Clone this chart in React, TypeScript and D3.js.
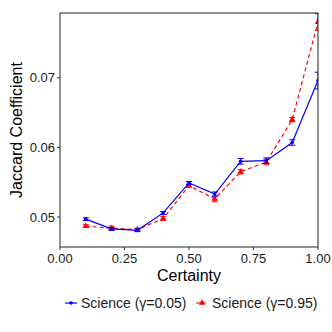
import * as d3 from "d3";

const certainty = [0.1, 0.2, 0.3, 0.4, 0.5, 0.6, 0.7, 0.8, 0.9, 1.0];
const lowGamma = [0.0497, 0.0483, 0.0481, 0.0506, 0.0549, 0.0533, 0.058, 0.0581, 0.0607, 0.0696];
const lowGammaErr = [0.0002, 0.0002, 0.0002, 0.0002, 0.0002, 0.0003, 0.0004, 0.0004, 0.0004, 0.0012];
const highGamma = [0.0487, 0.0484, 0.0482, 0.0498, 0.0545, 0.0526, 0.0565, 0.0579, 0.064, 0.078];
const highGammaErr = [0.0002, 0.0003, 0.0002, 0.0003, 0.0002, 0.0004, 0.0003, 0.0004, 0.0003, 0.0012];
const xTicks = [0, 0.25, 0.5, 0.75, 1.0];
const yTicks = [0.05, 0.06, 0.07];
const legendLabels = ["Science (γ=0.05)", "Science (γ=0.95)"];

const W = 332, H = 332;
const margin = { top: 13, left: 60, right: 14, bottom: 85 };
const font = "'Liberation Sans', Arial, sans-serif";

export default function App() {
  const x = d3.scaleLinear().domain([0, 1]).range([margin.left, W - margin.right]);
  const y = d3.scaleLinear().domain([0.0457, 0.0793]).range([H - margin.bottom, margin.top]);
  const line = d3.line<number>().x((_, i) => x(certainty[i])).y((d) => y(d));

  const blue = "#0000ff", red = "#ff0000";
  const tri = d3.symbol().type(d3.symbolTriangle).size(18)() as string;

  const errBars = (vals: number[], errs: number[], color: string) =>
    vals.map((v, i) => {
      const cx = x(certainty[i]);
      const y0 = y(v - errs[i]), y1 = y(v + errs[i]);
      return (
        <g key={i} stroke={color} strokeWidth={1}>
          <line x1={cx} x2={cx} y1={y0} y2={y1} />
          <line x1={cx - 3} x2={cx + 3} y1={y0} y2={y0} />
          <line x1={cx - 3} x2={cx + 3} y1={y1} y2={y1} />
        </g>
      );
    });

  return (
    <svg width={W} height={H} style={{ position: "absolute", left: 0, top: 0, background: "#fff" }} fontFamily={font}>
      <defs>
        <clipPath id="panel">
          <rect x={margin.left} y={margin.top} width={W - margin.left - margin.right} height={H - margin.top - margin.bottom} />
        </clipPath>
      </defs>
      <g clipPath="url(#panel)">
        <path d={line(highGamma) as string} fill="none" stroke={red} strokeWidth={1.2} strokeDasharray="4,3" />
        {errBars(highGamma, highGammaErr, red)}
        {highGamma.map((v, i) => (
          <path key={i} d={tri} transform={`translate(${x(certainty[i])},${y(v)})`} fill={red} />
        ))}
        <path d={line(lowGamma) as string} fill="none" stroke={blue} strokeWidth={1.2} />
        {errBars(lowGamma, lowGammaErr, blue)}
        {lowGamma.map((v, i) => (
          <circle key={i} cx={x(certainty[i])} cy={y(v)} r={1.8} fill={blue} />
        ))}
      </g>
      <rect x={margin.left} y={margin.top} width={W - margin.left - margin.right} height={H - margin.top - margin.bottom}
        fill="none" stroke="#222" strokeWidth={1} />
      {xTicks.map((t) => (
        <g key={t}>
          <line x1={x(t)} x2={x(t)} y1={H - margin.bottom} y2={H - margin.bottom + 3} stroke="#333" />
          <text x={x(t)} y={H - margin.bottom + 16} textAnchor="middle" fontSize={13} fill="#1a1a1a">
            {d3.format(".2f")(t)}
          </text>
        </g>
      ))}
      {yTicks.map((t) => (
        <g key={t}>
          <line x1={margin.left - 3} x2={margin.left} y1={y(t)} y2={y(t)} stroke="#333" />
          <text x={margin.left - 5} y={y(t) + 4.5} textAnchor="end" fontSize={13} fill="#1a1a1a">
            {d3.format(".2f")(t)}
          </text>
        </g>
      ))}
      <text x={x(0.5)} y={281} textAnchor="middle" fontSize={16} fill="#000">Certainty</text>
      <text transform={`translate(22,${(margin.top + H - margin.bottom) / 2}) rotate(-90)`} textAnchor="middle" fontSize={16} fill="#000">
        Jaccard Coefficient
      </text>
      <g>
        <line x1={65} x2={77} y1={303} y2={303} stroke={blue} strokeWidth={1.2} />
        <circle cx={71} cy={303} r={1.8} fill={blue} />
        <text x={81} y={308} fontSize={14} fill="#1a1a1a">{legendLabels[0]}</text>
        <line x1={196} x2={208} y1={303} y2={303} stroke={red} strokeWidth={1.2} strokeDasharray="4,2" />
        <path d={tri} transform="translate(202,303)" fill={red} />
        <text x={212} y={308} fontSize={14} fill="#1a1a1a">{legendLabels[1]}</text>
      </g>
    </svg>
  );
}
